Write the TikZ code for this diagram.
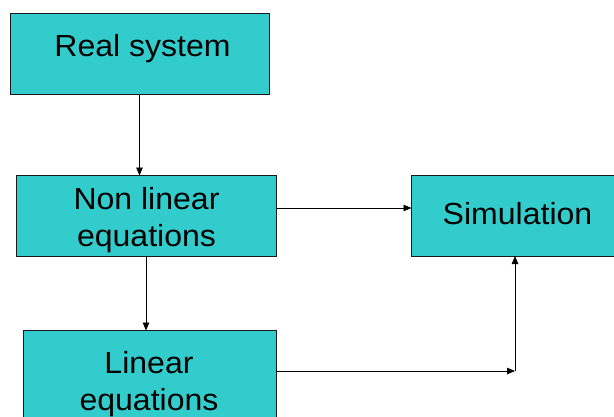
\documentclass[tikz,border=0pt]{standalone}
\usepackage{fontspec}
\setmainfont{Liberation Sans}
\usetikzlibrary{arrows.meta}
\definecolor{boxfill}{HTML}{33CCCC}
\definecolor{boxline}{HTML}{1A1A1A}
\tikzset{
  box/.style={draw=boxline, line width=0.9pt, fill=boxfill, inner sep=0pt, outer sep=0pt},
  lbl/.style={font=\fontsize{30.5}{37}\selectfont, align=center, inner sep=0pt, anchor=north, text=black, xscale=1.05, transform shape},
  arr/.style={draw=black, line width=0.8pt, -{Triangle[length=8pt,width=6.5pt]}}
}
\begin{document}
\begin{tikzpicture}[x=1pt,y=-1pt]
\useasboundingbox (0,0) rectangle (614,416);
\clip (0,0) rectangle (614,416);
\node[box, minimum width=259pt, minimum height=81pt] (rs) at (139.5,53.5) {};
\node[box, minimum width=260pt, minimum height=80.5pt] (nl) at (146,215.75) {};
\node[box, minimum width=211.5pt, minimum height=81pt] (sim) at (517.25,215.5) {};
\node[box, minimum width=253pt, minimum height=100pt] (lin) at (149.5,380.5) {};
\node[lbl] (rst) at (142.5,33.7) {Real system};
\node[lbl] (nlt) at (146.5,187.2) {Non linear\\equations};
\node[lbl] (simt) at (517.5,201.7) {Simulation};
\node[lbl] (lint) at (149,351.5) {Linear\\equations};
\coordinate (c) at (515,371);
\draw[arr] (rs.south) -- (rs.south |- nl.north);
\draw[arr] (nl.south) -- (nl.south |- lin.north);
\draw[arr] ([yshift=7.75pt]nl.east) -- ([yshift=7.75pt]nl.east -| sim.west);
\draw[arr] (lin.east |- c) -- (c);
\draw[arr] (c) -- (c |- sim.south);
\end{tikzpicture}
\end{document}
